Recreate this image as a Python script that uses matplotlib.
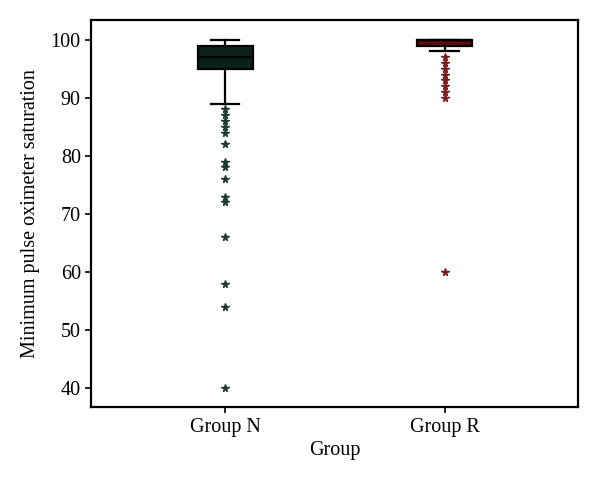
import matplotlib
matplotlib.use("Agg")
import matplotlib.pyplot as plt

plt.rcParams['font.family'] = ['Liberation Serif', 'DejaVu Serif']

# Box statistics
groups = ["Group N", "Group R"]
q1 = [95, 99]
median = [97, 100]
q3 = [99, 100]
whisker_lo = [89, 98]
whisker_hi = [100, 100]
outliers_n = [88, 87, 86, 85, 84, 82, 79, 78, 76, 73, 72, 66, 58, 54, 40]
outliers_r = [97, 96, 95, 94, 93, 92, 91, 90, 60]

fill_colors = ["#0c2219", "#5c0b0d"]
flier_colors = ["#1d3b33", "#7a1c1e"]

stats = []
for i, name in enumerate(groups):
    stats.append({
        "label": name,
        "q1": q1[i], "med": median[i], "q3": q3[i],
        "whislo": whisker_lo[i], "whishi": whisker_hi[i],
        "fliers": [outliers_n, outliers_r][i],
    })

fig = plt.figure(figsize=(6, 4.83), dpi=100)
ax = fig.add_axes([0.152, 0.157, 0.812, 0.802])

bp = ax.bxp(stats, positions=[1, 2], widths=0.25, patch_artist=True,
            showfliers=False,
            boxprops=dict(linewidth=1.6, edgecolor="black"),
            medianprops=dict(color="black", linewidth=1.6),
            whiskerprops=dict(color="black", linewidth=1.6),
            capprops=dict(color="black", linewidth=1.6))
for patch, c in zip(bp["boxes"], fill_colors):
    patch.set_facecolor(c)
for cap in bp["caps"]:
    x0, x1 = cap.get_xdata()
    mid = (x0 + x1) / 2
    cap.set_xdata([mid - 0.065, mid + 0.065])

for i, fl in enumerate([outliers_n, outliers_r]):
    ax.plot([i + 1] * len(fl), fl, linestyle="none", marker="*",
            markersize=5.5, color=flier_colors[i])

ax.set_xlim(0.39, 2.61)
ax.set_ylim(36.7, 103.45)
ax.set_yticks([40, 50, 60, 70, 80, 90, 100])
ax.set_xticks([1, 2])
ax.set_xticklabels(groups)
ax.tick_params(axis='both', labelsize=14.5, direction='out', length=4, width=1.2)
ax.set_xlabel("Group", fontsize=14.5, labelpad=3)
ax.set_ylabel("Minimum pulse oximeter saturation", fontsize=14.5, labelpad=8)
for sp in ax.spines.values():
    sp.set_linewidth(1.6)

fig.savefig("out.png", dpi=100)
